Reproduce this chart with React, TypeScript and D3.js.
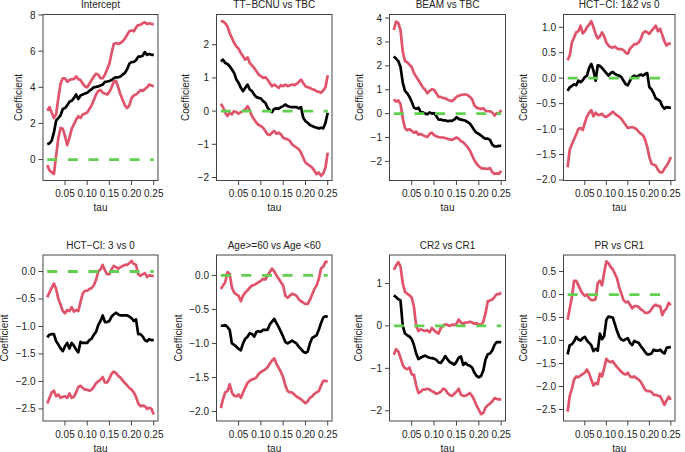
import React from "react";
import * as d3 from "d3";

const TAU: number[] = d3.range(49).map((i) => +(0.01 + i * 0.005).toFixed(3));

const titles = [
  "Intercept",
  "TT\u2212BCNU vs TBC",
  "BEAM vs TBC",
  "HCT\u2212CI: 1&2 vs 0",
  "HCT\u2212CI: 3 vs 0",
  "Age>=60 vs Age <60",
  "CR2 vs CR1",
  "PR vs CR1",
];

// Panel 1: Intercept
const p1Est = [0.85,0.9,1.05,1.5,2.15,2.3,2.45,2.8,2.85,3.0,3.2,3.25,3.4,3.6,3.35,3.55,3.6,3.65,3.7,3.8,3.9,4.0,4.02,4.05,4.1,4.15,4.3,4.32,4.35,4.4,4.5,4.55,4.55,4.6,4.7,4.8,5.0,5.3,5.4,5.4,5.5,5.7,5.7,5.75,5.95,5.8,5.85,5.8,5.8];
const p1Hi = [2.7,2.9,2.6,2.3,2.5,3.4,4.2,4.5,4.5,4.3,4.4,4.45,4.45,4.6,4.45,4.4,4.2,4.05,4.0,4.2,4.4,4.6,4.75,4.7,4.5,4.5,4.7,5.0,5.3,5.9,6.4,6.45,6.4,6.45,6.55,6.7,6.9,7.1,7.15,7.1,7.3,7.45,7.45,7.55,7.6,7.5,7.55,7.5,7.5];
const p1Lo = [-0.3,-0.6,-0.7,-0.8,0.2,1.2,1.75,1.7,1.3,0.8,1.2,1.7,1.95,2.2,2.4,2.3,2.5,2.55,2.6,2.8,3.0,3.3,3.6,3.8,3.85,3.7,3.65,3.6,3.75,4.0,4.3,4.35,4.0,3.6,3.3,3.0,2.85,3.0,3.4,3.55,3.6,3.7,3.85,3.8,3.9,4.0,4.15,4.1,4.05];

// Panel 2: TT-BCNU vs TBC
const p2Est = [1.5,1.55,1.45,1.42,1.35,1.25,1.15,0.95,0.85,0.7,0.6,0.7,0.8,0.65,0.6,0.5,0.42,0.4,0.38,0.3,0.25,0.1,0.02,-0.03,0.07,0.08,0.07,0.12,0.15,0.2,0.15,0.13,0.12,0.12,0.12,0.08,0.12,-0.2,-0.3,-0.35,-0.42,-0.45,-0.48,-0.5,-0.52,-0.5,-0.52,-0.35,-0.05];
const p2Hi = [2.7,2.7,2.65,2.55,2.35,2.2,2.05,1.95,1.88,1.75,1.65,1.55,1.62,1.45,1.38,1.3,1.2,1.1,1.05,1.0,1.02,0.95,0.85,0.75,0.8,0.75,0.7,0.78,0.75,0.8,0.75,0.78,0.8,0.78,0.82,0.88,0.95,0.85,0.75,0.72,0.7,0.66,0.64,0.6,0.58,0.55,0.62,0.72,1.08];
const p2Lo = [0.22,0.12,-0.05,-0.15,-0.05,-0.1,0.0,-0.03,-0.08,-0.03,0.0,0.05,0.15,0.02,-0.15,-0.25,-0.35,-0.42,-0.45,-0.5,-0.6,-0.7,-0.72,-0.65,-0.6,-0.68,-0.65,-0.7,-0.8,-0.83,-0.85,-0.9,-1.0,-1.05,-1.1,-1.15,-1.25,-1.4,-1.55,-1.6,-1.65,-1.7,-1.8,-1.9,-1.85,-1.95,-1.88,-1.7,-1.25];

// Panel 3: BEAM vs TBC
const p3Est = [2.4,2.3,2.2,1.95,1.3,0.95,0.85,0.7,0.5,0.25,0.2,0.25,0.07,0.05,0.0,-0.03,0.05,0.0,0.02,-0.1,-0.25,-0.25,-0.28,-0.28,-0.32,-0.3,-0.3,-0.25,-0.15,-0.22,-0.25,-0.27,-0.3,-0.35,-0.42,-0.55,-0.7,-0.8,-0.85,-0.92,-1.0,-1.05,-1.05,-1.1,-1.3,-1.37,-1.37,-1.35,-1.35];
const p3Hi = [3.5,3.85,3.8,3.5,2.6,2.2,2.15,2.05,1.95,1.7,1.55,1.4,1.25,1.1,1.0,0.85,0.95,1.02,1.0,0.85,0.7,0.7,0.65,0.65,0.58,0.55,0.52,0.6,0.7,0.75,0.78,0.8,0.8,0.78,0.7,0.6,0.35,0.25,0.22,0.2,0.22,0.12,0.1,0.1,0.05,-0.08,0.02,0.0,0.15];
const p3Lo = [0.6,0.5,0.55,0.4,-0.2,-0.6,-0.7,-0.65,-0.72,-0.8,-0.75,-0.88,-0.85,-0.9,-0.95,-0.98,-0.85,-0.8,-0.9,-0.95,-0.98,-1.0,-1.0,-1.02,-1.05,-1.08,-1.1,-1.05,-1.0,-1.05,-1.15,-1.2,-1.3,-1.4,-1.55,-1.75,-1.95,-2.1,-2.2,-2.28,-2.3,-2.3,-2.32,-2.28,-2.45,-2.52,-2.5,-2.52,-2.4];

// Panel 4: HCT-CI 1&2 vs 0
const p4Est = [-0.25,-0.18,-0.15,-0.12,-0.14,-0.05,-0.08,-0.04,0.02,0.05,0.2,0.28,0.15,-0.05,0.25,0.24,0.2,0.15,0.1,0.05,0.1,0.12,0.08,0.06,0.05,0.02,-0.05,-0.12,-0.14,-0.05,0.02,0.05,0.02,0.05,0.07,0.05,0.08,0.1,-0.18,-0.22,-0.3,-0.4,-0.42,-0.45,-0.55,-0.6,-0.57,-0.58,-0.58];
const p4Hi = [0.35,0.45,0.7,0.8,0.9,0.92,1.03,0.88,0.92,1.0,1.05,1.12,1.0,0.87,0.78,0.82,0.9,0.82,0.7,0.64,0.61,0.6,0.62,0.58,0.57,0.57,0.55,0.5,0.48,0.58,0.62,0.67,0.67,0.7,0.77,0.88,0.92,0.9,0.87,0.93,0.98,1.03,0.92,0.97,0.85,0.72,0.64,0.68,0.68];
const p4Lo = [-1.75,-1.4,-1.3,-1.2,-1.1,-1.0,-0.98,-1.02,-0.88,-0.75,-0.68,-0.63,-0.75,-0.68,-0.72,-0.72,-0.7,-0.75,-0.76,-0.73,-0.7,-0.66,-0.7,-0.73,-0.76,-0.8,-0.86,-0.92,-0.98,-0.97,-0.96,-0.98,-1.0,-1.05,-1.09,-1.12,-1.2,-1.35,-1.55,-1.68,-1.7,-1.72,-1.8,-1.85,-1.85,-1.78,-1.72,-1.65,-1.55];

// Panel 5: HCT-CI 3 vs 0
const p5Est = [-1.2,-1.15,-1.14,-1.14,-1.27,-1.33,-1.4,-1.45,-1.36,-1.3,-1.4,-1.3,-1.35,-1.42,-1.47,-1.28,-1.3,-1.3,-1.3,-1.25,-1.22,-1.15,-1.1,-0.97,-0.9,-0.8,-0.92,-0.92,-0.9,-0.82,-0.78,-0.75,-0.78,-0.8,-0.8,-0.8,-0.8,-0.82,-0.85,-0.9,-0.87,-1.14,-1.14,-1.18,-1.25,-1.27,-1.23,-1.25,-1.25];
const p5Hi = [-0.47,-0.38,-0.3,-0.22,-0.32,-0.5,-0.6,-0.72,-0.76,-0.7,-0.72,-0.65,-0.73,-0.7,-0.72,-0.55,-0.4,-0.35,-0.35,-0.32,-0.3,-0.25,-0.15,0.0,0.04,0.12,0.02,-0.05,-0.05,0.04,0.1,0.08,0.05,0.08,0.1,0.12,0.12,0.15,0.19,0.14,0.12,-0.05,-0.08,-0.05,-0.03,-0.1,-0.07,-0.08,-0.08];
const p5Lo = [-2.4,-2.3,-2.2,-2.17,-2.27,-2.24,-2.3,-2.28,-2.27,-2.3,-2.22,-2.3,-2.28,-2.2,-2.1,-2.08,-2.12,-2.15,-2.15,-2.17,-2.15,-2.1,-2.03,-2.0,-1.97,-1.92,-2.02,-2.02,-1.95,-1.86,-1.82,-1.85,-1.9,-1.93,-1.98,-2.03,-2.07,-2.12,-2.15,-2.2,-2.28,-2.4,-2.45,-2.44,-2.45,-2.5,-2.48,-2.5,-2.6];

// Panel 6: Age>=60 vs Age <60
const p6Est = [-0.74,-0.74,-0.73,-0.76,-0.8,-1.0,-1.02,-1.05,-1.08,-1.1,-1.0,-0.93,-0.9,-0.85,-0.86,-0.9,-0.83,-0.82,-0.83,-0.8,-0.8,-0.8,-0.72,-0.68,-0.64,-0.7,-0.76,-0.83,-0.9,-0.98,-1.0,-0.98,-0.96,-0.98,-1.0,-1.05,-1.08,-1.12,-1.14,-1.12,-1.0,-0.92,-0.9,-0.88,-0.8,-0.7,-0.62,-0.6,-0.61];
const p6Hi = [-0.2,-0.15,-0.1,0.05,0.02,-0.18,-0.25,-0.28,-0.3,-0.38,-0.3,-0.25,-0.22,-0.18,-0.15,-0.14,-0.12,-0.1,-0.08,-0.05,-0.06,0.0,0.05,0.1,0.06,0.0,-0.05,-0.1,-0.15,-0.3,-0.33,-0.3,-0.27,-0.28,-0.3,-0.35,-0.38,-0.4,-0.42,-0.42,-0.36,-0.28,-0.2,-0.15,-0.05,0.1,0.13,0.2,0.2];
const p6Lo = [-1.95,-1.82,-1.72,-1.7,-1.6,-1.72,-1.77,-1.78,-1.75,-1.8,-1.72,-1.65,-1.58,-1.55,-1.53,-1.52,-1.5,-1.45,-1.42,-1.4,-1.38,-1.35,-1.3,-1.25,-1.22,-1.3,-1.36,-1.42,-1.5,-1.62,-1.7,-1.72,-1.72,-1.75,-1.78,-1.8,-1.82,-1.85,-1.88,-1.85,-1.8,-1.78,-1.74,-1.72,-1.7,-1.62,-1.55,-1.55,-1.56];

// Panel 7: CR2 vs CR1
const p7Est = [0.72,0.68,0.63,0.6,0.0,-0.18,-0.22,-0.25,-0.31,-0.45,-0.65,-0.78,-0.75,-0.72,-0.7,-0.73,-0.75,-0.76,-0.77,-0.8,-0.86,-0.87,-0.8,-0.71,-0.79,-0.85,-0.88,-0.91,-0.85,-0.75,-0.72,-0.92,-0.87,-0.92,-0.94,-0.98,-1.1,-1.18,-1.21,-1.18,-1.05,-0.79,-0.67,-0.65,-0.58,-0.45,-0.38,-0.38,-0.38];
const p7Hi = [1.32,1.42,1.5,1.4,1.0,0.8,0.76,0.72,0.67,0.45,0.0,-0.12,-0.08,-0.1,-0.12,-0.1,-0.15,-0.05,-0.1,-0.15,-0.18,-0.05,0.0,0.04,0.02,0.0,0.03,0.02,0.05,0.15,0.08,0.05,0.08,0.08,0.1,0.08,0.05,0.06,0.04,0.02,0.1,0.3,0.58,0.6,0.62,0.68,0.75,0.75,0.78];
const p7Lo = [-0.68,-0.55,-0.6,-0.75,-0.92,-1.0,-1.02,-0.98,-1.14,-1.15,-1.4,-1.58,-1.55,-1.5,-1.5,-1.48,-1.5,-1.54,-1.56,-1.6,-1.58,-1.55,-1.48,-1.5,-1.58,-1.63,-1.65,-1.6,-1.55,-1.48,-1.62,-1.65,-1.65,-1.62,-1.58,-1.65,-1.75,-1.88,-1.98,-2.08,-2.05,-1.92,-1.87,-1.83,-1.78,-1.7,-1.72,-1.73,-1.73];

// Panel 8: PR vs CR1
const p8Est = [-1.3,-1.1,-1.08,-1.02,-0.92,-0.98,-1.0,-0.95,-0.92,-1.0,-1.05,-1.1,-1.23,-1.18,-1.22,-0.85,-0.97,-0.9,-0.55,-0.48,-0.49,-0.5,-0.65,-0.8,-0.92,-0.98,-1.0,-0.97,-0.95,-1.05,-1.1,-1.01,-1.03,-1.05,-1.12,-1.18,-1.25,-1.3,-1.3,-1.28,-1.2,-1.22,-1.22,-1.2,-1.25,-1.28,-1.16,-1.15,-1.14];
const p8Hi = [-0.55,-0.3,-0.05,0.3,0.3,0.2,0.1,0.02,-0.03,0.0,-0.08,-0.12,-0.12,-0.1,0.25,0.3,0.2,0.48,0.72,0.68,0.6,0.55,0.45,0.35,0.15,0.02,-0.12,-0.17,-0.15,-0.22,-0.3,-0.25,-0.25,-0.27,-0.32,-0.35,-0.4,-0.4,-0.38,-0.32,-0.25,-0.22,-0.25,-0.25,-0.45,-0.35,-0.3,-0.18,-0.23];
const p8Lo = [-2.55,-2.2,-2.05,-1.85,-1.78,-1.8,-1.76,-1.73,-1.7,-1.63,-1.72,-1.85,-1.98,-1.92,-1.95,-1.72,-1.78,-1.6,-1.4,-1.45,-1.47,-1.45,-1.52,-1.58,-1.63,-1.68,-1.72,-1.74,-1.7,-1.78,-1.8,-1.78,-1.82,-1.85,-1.9,-1.98,-2.07,-2.1,-2.1,-2.12,-2.18,-2.18,-2.2,-2.21,-2.3,-2.4,-2.3,-2.22,-2.29];

const estimates = [p1Est, p2Est, p3Est, p4Est, p5Est, p6Est, p7Est, p8Est];
const uppers = [p1Hi, p2Hi, p3Hi, p4Hi, p5Hi, p6Hi, p7Hi, p8Hi];
const lowers = [p1Lo, p2Lo, p3Lo, p4Lo, p5Lo, p6Lo, p7Lo, p8Lo];

const yTickValues = [
  [0, 2, 4, 6, 8],
  [-2, -1, 0, 1, 2],
  [-2, -1, 0, 1, 2, 3, 4],
  [-2, -1.5, -1, -0.5, 0, 0.5, 1],
  [-2.5, -2, -1.5, -1, -0.5, 0],
  [-2, -1.5, -1, -0.5, 0],
  [-2, -1, 0, 1],
  [-2.5, -2, -1.5, -1, -0.5, 0, 0.5],
];
const yTickDecimals = [0, 0, 0, 1, 1, 1, 0, 1];
const xTickValues = [0.05, 0.1, 0.15, 0.2, 0.25];

// layout (axis ranges as they appear in the figure)
const yDomains: [number, number][] = [
  [-1.16, 8.03],
  [-2.09, 2.91],
  [-2.8, 4.15],
  [-2.01, 1.25],
  [-2.72, 0.3],
  [-2.14, 0.3],
  [-2.24, 1.67],
  [-2.75, 0.86],
];
const xDomain: [number, number] = [0.0004, 0.2596];
const colLeft = [43, 216.5, 389.5, 563.5];
const colRight = [158, 332, 505.5, 675];
const rowTop = [14.5, 255];
const rowBottom = [180.5, 421];
const ylabX = [18.3, 185, 359, 523.3, 4, 178.3, 358.3, 523.3];

const RED = "#DF536B";
const GREEN = "#61D04F";
const FONT = "'Liberation Sans', Arial, Helvetica, sans-serif";

function fmtTick(v: number, dec: number) {
  const s = Math.abs(v).toFixed(dec);
  return (v < -1e-9 ? "\u2212" : "") + s;
}

function Panel({ i }: { i: number }) {
  const col = i % 4;
  const row = Math.floor(i / 4);
  const left = colLeft[col];
  const right = colRight[col];
  const top = rowTop[row];
  const bottom = rowBottom[row];
  const x = d3.scaleLinear().domain(xDomain).range([left, right]);
  const y = d3.scaleLinear().domain(yDomains[i]).range([bottom, top]);
  const line = d3
    .line<number>()
    .x((_, k) => x(TAU[k]))
    .y((d) => y(d));
  const zero = TAU.map(() => 0);
  const clipId = `clip${i}`;
  return (
    <g>
      <clipPath id={clipId}>
        <rect x={left} y={top} width={right - left} height={bottom - top} />
      </clipPath>
      <g clipPath={`url(#${clipId})`} fill="none" strokeLinejoin="round" strokeLinecap="butt">
        <path d={line(uppers[i]) || ""} stroke={RED} strokeWidth={2.7} />
        <path d={line(lowers[i]) || ""} stroke={RED} strokeWidth={2.7} />
        <path d={line(estimates[i]) || ""} stroke="#000" strokeWidth={2.7} />
        <path d={line(zero) || ""} stroke={GREEN} strokeWidth={2.8} strokeDasharray="10,10.6" />
      </g>
      <rect x={left} y={top} width={right - left} height={bottom - top} fill="none" stroke="#444" strokeWidth={1} />
      {yTickValues[i].map((v) => (
        <g key={`y${v}`}>
          <line x1={left - 4.5} x2={left} y1={y(v)} y2={y(v)} stroke="#444" strokeWidth={1} />
          <text x={left - 7.5} y={y(v)} dy="0.35em" textAnchor="end" fontSize={10} fontFamily={FONT} fill="#222">
            {fmtTick(v, yTickDecimals[i])}
          </text>
        </g>
      ))}
      {xTickValues.map((v) => (
        <g key={`x${v}`}>
          <line x1={x(v)} x2={x(v)} y1={bottom} y2={bottom + 4.5} stroke="#444" strokeWidth={1} />
          <text x={x(v)} y={bottom + 16.5} textAnchor="middle" fontSize={10} fontFamily={FONT} fill="#222">
            {v.toFixed(2)}
          </text>
        </g>
      ))}
      <text x={(left + right) / 2} y={bottom + 30.5} textAnchor="middle" fontSize={10} fontFamily={FONT} fill="#222">
        tau
      </text>
      <text
        transform={`translate(${ylabX[i]},${(top + bottom) / 2}) rotate(-90)`}
        dy="0.35em"
        textAnchor="middle"
        fontSize={10}
        fontFamily={FONT}
        fill="#222"
      >
        Coefficient
      </text>
      <text x={(left + right) / 2} y={top - 6.5} textAnchor="middle" fontSize={10} fontFamily={FONT} fill="#222">
        {titles[i]}
      </text>
    </g>
  );
}

export default function App() {
  return (
    <svg
      width={685}
      height={452}
      viewBox="0 0 685 452"
      style={{ position: "absolute", left: 0, top: 0, background: "#fff" }}
    >
      <rect width={685} height={452} fill="#fff" />
      {titles.map((_, i) => (
        <Panel key={i} i={i} />
      ))}
    </svg>
  );
}
